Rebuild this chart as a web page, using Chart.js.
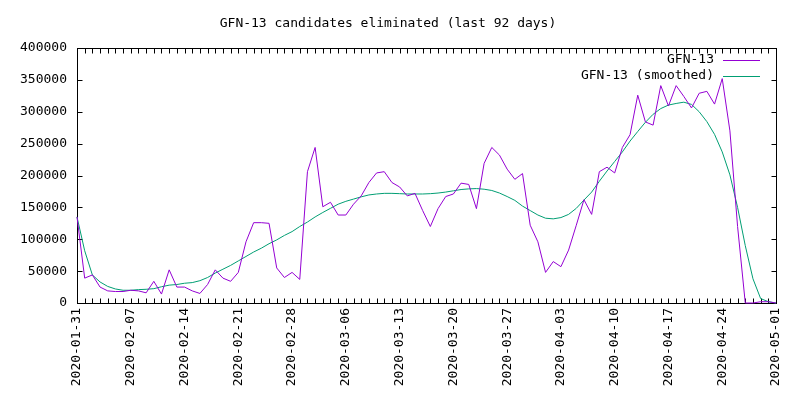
<!DOCTYPE html>
<html>
<head>
<meta charset="utf-8">
<script src="https://cdn.jsdelivr.net/npm/chart.js@4"></script>
<style>
  html, body { margin: 0; padding: 0; background: #fff; }
  #wrap { width: 800px; height: 400px; }
</style>
</head>
<body>
<div id="wrap"><canvas id="myChart" width="800" height="400"></canvas></div>
<script>
// tick labels, one every 7 days (day 0 = 2020-01-31)
const tickLabels = ['2020-01-31', '2020-02-07', '2020-02-14', '2020-02-21', '2020-02-28', '2020-03-06', '2020-03-13',
  '2020-03-20', '2020-03-27', '2020-04-03', '2020-04-10', '2020-04-17', '2020-04-24', '2020-05-01'];

const seriesNames = ['GFN-13', 'GFN-13 (smoothed)'];

// daily counts, 92 days
const eliminated = [
  135000, 39000, 44000, 25000, 19000, 18000, 18000, 20000, 19000, 16000,
  34000, 14000, 52000, 25000, 25000, 19000, 15000, 29000, 52000, 39000,
  34000, 48000, 96000, 126000, 126000, 125000, 55000, 40000, 48000, 37000,
  206000, 244000, 151000, 158000, 138000, 138000, 155000, 168000, 189000, 204000,
  206000, 189000, 182000, 168000, 172000, 145000, 120000, 148000, 167000, 171000,
  188000, 186000, 148000, 219000, 244000, 232000, 210000, 194000, 203000, 122000,
  96000, 48000, 65000, 57000, 83000, 122000, 162000, 139000, 206000, 213000,
  204000, 244000, 264000, 326000, 284000, 279000, 341000, 309000, 341000, 324000,
  306000, 329000, 332000, 312000, 352000, 270000, 120000, 0, 0, 2000,
  2000, 0
];

const smoothed = [
  135000, 82000, 44000, 33000, 26000, 22000, 20000, 20000, 21000, 21500,
  22500, 25500, 28000, 29000, 31000, 32000, 35000, 40000, 47000, 53000,
  59000, 66000, 73000, 80000, 86000, 93000, 99000, 106000, 112000, 120000,
  127000, 135000, 142000, 148500, 155000, 159500, 163000, 166500, 169500, 171000,
  172000, 172000, 171500, 171000, 171000, 171000, 171500, 172500, 174000, 176000,
  178000, 179000, 179500, 178500, 176500, 172500, 167000, 161000, 152000, 145000,
  138000, 133000, 132000, 134000, 139000, 148500, 161500, 174000, 191000, 207000,
  222000, 237000, 254000, 269000, 283500, 296000, 305000, 310500, 313000, 315000,
  311500, 300000, 284500, 264500, 237000, 201000, 150000, 90000, 38000, 7000,
  2000, 0
];

const lineColors = ['#9400d3', '#009e73'];

const toPoints = arr => arr.map((v, i) => ({ x: i, y: v }));

// gnuplot style box, inward ticks and legend
const gnuFrame = {
  id: 'gnuFrame',
  beforeDatasetsDraw(chart) {
    const { ctx, chartArea: a, scales } = chart;
    const l = Math.round(a.left) + 0.5, r = Math.round(a.right) + 0.5;
    const t = Math.round(a.top) + 0.5, b = Math.round(a.bottom) + 0.5;
    ctx.save();
    ctx.strokeStyle = '#000';
    ctx.lineWidth = 1;
    ctx.beginPath();
    // day ticks on bottom and top
    for (let d = 0; d <= 91; d++) {
      const x = Math.round(scales.x.getPixelForValue(d)) + 0.5;
      ctx.moveTo(x, b); ctx.lineTo(x, b - 5);
      ctx.moveTo(x, t); ctx.lineTo(x, t + 5);
    }
    scales.y.ticks.forEach(tk => {
      const y = Math.round(scales.y.getPixelForValue(tk.value)) + 0.5;
      ctx.moveTo(l, y); ctx.lineTo(l + 5, y);
      ctx.moveTo(r, y); ctx.lineTo(r - 5, y);
    });
    ctx.stroke();
    ctx.strokeRect(l, t, r - l, b - t);
    ctx.restore();
  },
  afterDraw(chart) {
    const { ctx, chartArea: a } = chart;
    ctx.save();
    ctx.font = "13px 'DejaVu Sans Mono', monospace";
    ctx.fillStyle = '#000';
    ctx.textAlign = 'right';
    ctx.textBaseline = 'middle';
    seriesNames.forEach((name, i) => {
      const y = Math.round(a.top) + 12 + i * 16;
      ctx.fillText(name, a.right - 62, y);
      ctx.strokeStyle = lineColors[i];
      ctx.lineWidth = 1;
      ctx.beginPath();
      ctx.moveTo(a.right - 53, y + 0.5);
      ctx.lineTo(a.right - 16, y + 0.5);
      ctx.stroke();
    });
    ctx.restore();
  }
};

Chart.defaults.font.family = "'DejaVu Sans Mono', monospace";
Chart.defaults.font.size = 13;
Chart.defaults.color = '#000';

const ctx = document.getElementById('myChart').getContext('2d');
new Chart(ctx, {
  type: 'line',
  data: {
    datasets: [
      {
        label: seriesNames[0],
        data: toPoints(eliminated),
        borderColor: lineColors[0],
        borderWidth: 1,
        pointRadius: 0,
        tension: 0,
        clip: false
      },
      {
        label: seriesNames[1],
        data: toPoints(smoothed),
        borderColor: lineColors[1],
        borderWidth: 1,
        pointRadius: 0,
        tension: 0,
        clip: false
      }
    ]
  },
  options: {
    responsive: false,
    animation: false,
    events: [],
    layout: { padding: { top: 0, left: 0, right: 24, bottom: 0 } },
    plugins: {
      legend: { display: false },
      tooltip: { enabled: false },
      title: {
        display: true,
        text: 'GFN-13 candidates eliminated (last 92 days)',
        font: { size: 13, weight: 'normal' },
        padding: { top: 16, bottom: 16.4 }
      }
    },
    scales: {
      x: {
        type: 'linear',
        min: 0,
        max: 91,
        grid: { display: false, drawTicks: false },
        border: { display: false },
        ticks: {
          stepSize: 7,
          autoSkip: false,
          minRotation: 90,
          maxRotation: 90,
          padding: 5,
          callback: v => tickLabels[v / 7]
        },
        afterFit: s => { s.height = 97; }
      },
      y: {
        min: 0,
        max: 400000,
        grid: { display: false, drawTicks: false },
        border: { display: false },
        ticks: { stepSize: 50000, padding: 10, callback: v => String(v) },
        afterFit: s => { s.width = 77; }
      }
    }
  },
  plugins: [gnuFrame]
});
</script>
</body>
</html>
